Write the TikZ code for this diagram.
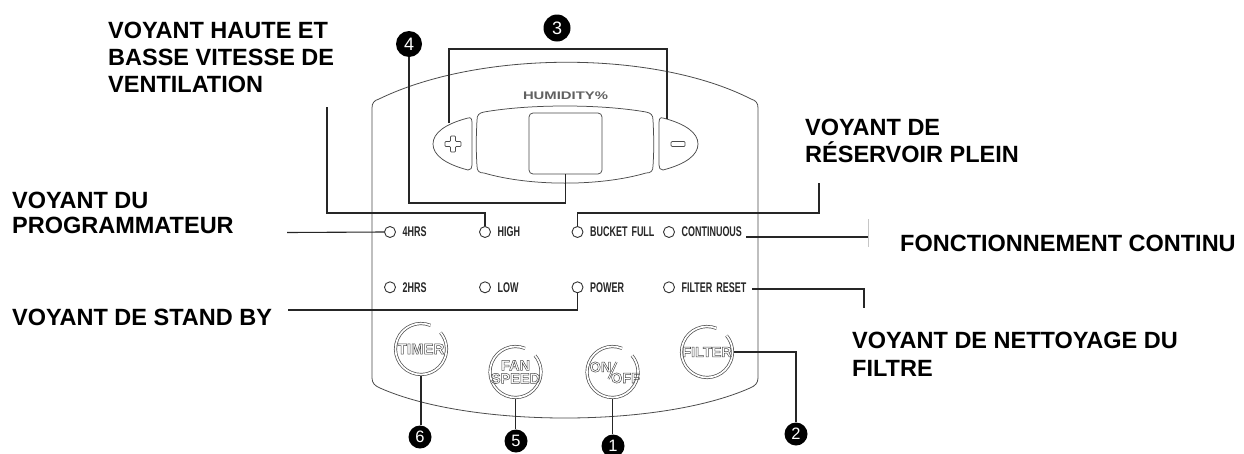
\documentclass[tikz,border=0pt]{standalone}
\usepackage{fontspec}
\setmainfont{Liberation Sans}
\newfontfamily\ledfont[FakeStretch=0.64]{Liberation Sans}
\newfontfamily\humfont[FakeStretch=1.35]{Liberation Sans}
\usetikzlibrary{calc}
\definecolor{panelc}{gray}{0.3}
\definecolor{ledc}{gray}{0.2}
\definecolor{ledtc}{gray}{0.15}
\definecolor{btnc}{gray}{0.3}
\newcommand\twolines[2]{\vtop{\hbox{#1}\hbox{#2}}}
\newcommand\threelines[3]{\vtop{\hbox{#1}\hbox{#2}\hbox{#3}}}
\newcommand\outl[1]{\special{pdf:literal direct 1 Tr 0.5 w}#1\special{pdf:literal direct 0 Tr}}
\begin{document}
\begin{tikzpicture}[x=1pt,y=-1pt,
  lbl/.style={font=\fontsize{23.5}{27}\selectfont\bfseries, anchor=base west, inner sep=0},
  led/.style={circle, draw=ledc, line width=0.9pt, minimum size=11pt, inner sep=0},
  ledtxt/.style={font=\ledfont\bfseries\fontsize{14}{14}\selectfont, anchor=base west, inner sep=0, text=ledtc},
  conn/.style={line width=1.1pt, draw=black!85},
  num/.style={circle, fill=black, text=white, inner sep=0, minimum size=23pt, font=\fontsize{16.5}{16.5}\selectfont},
  bignum/.style={num, minimum size=27pt, font=\fontsize{18}{18}\selectfont},
  btn/.style={circle, minimum size=54pt, inner sep=0},
  btxt/.style={font=\bfseries\fontsize{14.5}{13}\selectfont, inner sep=0, text=btnc, align=center},
  ring/.style={draw=btnc, double=white, double distance=1.7pt, line width=0.7pt},
  shell/.style={draw=panelc, line width=0.8pt},
  disp/.style={draw=panelc, line width=0.75pt}]
\useasboundingbox (0,0) rectangle (1244,453);
\fill[white] (0,0) rectangle (1244,453);

% panel outline
\draw[shell] (372,378) -- (372,108) .. controls (372,103) and (374,100.5) .. (379,99)
  .. controls (480,50) and (655,50) .. (751,99) .. controls (756,100.5) and (758,103) .. (758,108)
  -- (758,378) .. controls (758,383) and (755,386) .. (750,388)
  .. controls (660,428) and (470,428) .. (380,388) .. controls (375,386) and (372,383) .. (372,378) -- cycle;

% display
\node[font=\humfont\bfseries\fontsize{11}{11}\selectfont, text=black!62, inner sep=0] (hum) at (565.5,96) {HUMIDITY\%};
\draw[disp] (484,112) .. controls (530,104) and (600,104) .. (646,112)
  .. controls (651,113) and (653,115) .. (653,120) .. controls (654,140) and (654,150) .. (653,166)
  .. controls (653,171) and (651,173) .. (646,173) .. controls (600,186.5) and (530,186.5) .. (484,173)
  .. controls (479,173) and (477,171) .. (477,166) .. controls (476,150) and (476,140) .. (477,120)
  .. controls (477,115) and (479,113) .. (484,112) -- cycle;
\node[disp, draw, rounded corners=4pt, minimum width=73pt, minimum height=61pt, inner sep=0] (sq) at (565.5,143.5) {};

% plus / minus buttons
\draw[disp] (468,118) .. controls (445,124) and (433,133) .. (433,144) .. controls (433,155) and (445,164) .. (468,170)
  .. controls (471,170) and (472,168) .. (472,165) -- (472,123) .. controls (472,119) and (471,117) .. (468,118) -- cycle;
\draw[disp] (663,118) .. controls (686,124) and (698,133) .. (698,144) .. controls (698,155) and (686,164) .. (663,170)
  .. controls (660,170) and (659,168) .. (659,165) -- (659,123) .. controls (659,119) and (660,117) .. (663,118) -- cycle;
\draw[draw=btnc, line width=0.7pt, rounded corners=0.8pt] (450.5,136) -- (455.5,136) -- (455.5,141.5) -- (461,141.5) -- (461,146.5)
  -- (455.5,146.5) -- (455.5,152) -- (450.5,152) -- (450.5,146.5) -- (445,146.5) -- (445,141.5) -- (450.5,141.5) -- cycle;
\draw[draw=btnc, line width=0.7pt, rounded corners=1pt] (671,141.5) rectangle (685,146.5);
\coordinate (bP) at (449,123);
\coordinate (bM) at (667,119);

% LEDs
\foreach \nm/\x/\y/\t in {l4/390/232/4HRS, lH/485/232/HIGH, lB/577.5/232/{BUCKET\hspace{4pt}FULL}, lC/669/232/CONTINUOUS,
  l2/390/287.3/2HRS, lL/485/287.3/LOW, lP/577.5/287.3/POWER, lF/669/287.3/{FILTER\hspace{4pt}RESET}}{
  \node[led] (\nm) at (\x,\y) {};
  \node[ledtxt] (\nm t) at ($(\nm)+(12.5,4.8)$) {\t};
}

% buttons
\foreach \nm/\x/\y in {bT/421/349, bS/515.5/372, bO/612.5/372, bF/707/352}{
  \node[btn] (\nm) at (\x,\y) {};
  \draw[ring] ($(\nm)+(-68:25.5)$) arc[start angle=-68, end angle=-400, radius=25.5];
}
\node[btxt, font=\bfseries\fontsize{15}{15}\selectfont] (tT) at (bT) {\outl{TIMER}};
\node[btxt] (tS) at (bS) {\outl{FAN}\\\outl{SPEED}};
\node[btxt] (on) at ($(bO)+(-12,-5)$) {\outl{ON}};
\node[btxt] (off) at ($(bO)+(13,6)$) {\outl{OFF}};
\draw[draw=btnc, double=white, double distance=0.8pt, line width=0.6pt] ($(bO)+(-4,7)$) -- ($(bO)+(4,-10)$);
\node[btxt] (tF) at (bF) {\outl{FILTER}};

% number markers
\node[bignum] (n3) at (557,28) {3};
\node[bignum, minimum size=26pt] (n4) at (409,44) {4};
\node[num] (n6) at (420,437) {6};
\node[num] (n5) at (516,441) {5};
\node[num] (n1) at (613,446) {1};
\node[num] (n2) at (796,434) {2};

% labels
\node[lbl] (labA) at (108,38.3) {\threelines{VOYANT HAUTE ET}{BASSE VITESSE DE}{VENTILATION}};
\node[lbl, font=\fontsize{23.5}{24.5}\selectfont\bfseries] (labB) at (12,208.5) {\twolines{VOYANT DU}{PROGRAMMATEUR}};
\node[lbl] (labC) at (12,325) {VOYANT DE STAND BY};
\node[lbl] (labD) at (805,135) {\twolines{VOYANT DE}{RÉSERVOIR PLEIN}};
\node[lbl] (labE) at (900,251.5) {FONCTIONNEMENT CONTINU};
\node[lbl, font=\fontsize{23.5}{28.3}\selectfont\bfseries] (labF) at (852,348.3) {\twolines{VOYANT DE NETTOYAGE DU}{FILTRE}};

% connector end points
\coordinate (cA) at (327,107);
\coordinate (cB) at (287,232.5);
\coordinate (cC) at (288,310);
\coordinate (cD) at (819,183);
\coordinate (cE1) at (746,237);
\coordinate (cE2) at (868,237);
\coordinate (cF1) at (752,289);
\coordinate (cF2) at (864,308);

% connectors
\draw[conn] (cA) |- (lH.north |- 0,213) -- (lH.north);
\draw[conn] (cB) -- (l4.west);
\draw[conn] (cC) -| (lP.south);
\draw[conn] (cD) |- (lB.north |- 0,213) -- (lB.north);
\draw[conn] (cE1) -- (cE2);
\draw[gray!45, line width=0.6pt] (868,219) -- (868,247);
\draw[conn] (cF1) -| (cF2);
\draw[conn] (bP) |- (bM |- 0,49) -- (bM);
\draw[conn] (n4.south) |- (sq.south |- 0,203) -- (sq.south);
\draw[conn] (bT.south) -- (bT.south |- n6.north);
\draw[conn] (bS.south) -- (bS.south |- n5.north);
\draw[conn] (bO.south) -- (bO.south |- n1.north);
\draw[conn] (bF.east) -| (n2.north);
\end{tikzpicture}
\end{document}
